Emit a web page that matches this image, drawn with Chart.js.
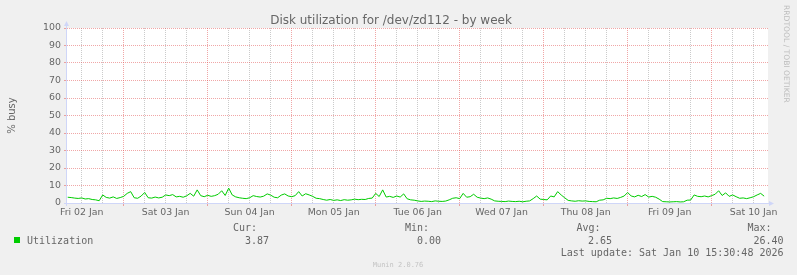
<!DOCTYPE html>
<html>
<head>
<meta charset="utf-8">
<script src="https://cdn.jsdelivr.net/npm/chart.js@4/dist/chart.umd.min.js"></script>
<style>
  html, body { margin: 0; padding: 0; background: #f0f0f0; }
  canvas { display: block; }
</style>
</head>
<body>
<canvas id="diskChart" width="797" height="275"></canvas>
<script>
// hours relative to noon Fri 02 Jan, one sample per hour
const firstHour = -4
const utilization = [
  3.3, 3.1, 2.8, 2.6, 2.9, 2.3, 2.5, 2.0, 1.8, 1.3,
  4.6, 3.2, 2.8, 3.5, 2.6, 3.1, 3.8, 5.5, 6.5, 3.0,
  2.7, 4.0, 6.0, 3.0, 2.8, 3.4, 2.9, 3.3, 4.6, 4.2,
  4.8, 3.5, 3.8, 3.3, 4.1, 5.5, 3.9, 7.5, 4.2, 3.6,
  4.4, 3.8, 4.2, 5.0, 7.0, 4.3, 8.5, 4.6, 3.5, 3.0,
  2.7, 2.5, 3.0, 4.2, 3.7, 3.4, 3.9, 5.2, 4.5, 3.3,
  3.0, 4.5, 5.2, 4.0, 3.6, 4.2, 6.5, 4.0, 5.3, 4.6,
  3.8, 2.7, 2.5, 2.0, 1.6, 2.0, 1.5, 1.8, 1.4, 1.9,
  1.6, 1.8, 2.2, 1.9, 2.1, 2.0, 2.6, 2.8, 5.5, 3.7,
  7.5, 3.4, 3.8, 3.2, 4.0, 3.4, 5.2, 2.4, 1.8, 1.6,
  1.2, 0.9, 1.1, 1.0, 0.8, 1.2, 1.0, 0.9, 1.1, 1.8,
  2.7, 3.0, 2.5, 5.5, 3.3, 3.6, 5.0, 3.3, 2.8, 2.5,
  2.9, 2.2, 1.2, 1.0, 0.9, 0.8, 1.1, 0.9, 0.8, 1.0,
  0.7, 1.0, 1.2, 2.5, 4.0, 2.2, 2.0, 1.8, 4.0, 3.5,
  6.5, 4.6, 3.0, 1.5, 1.2, 1.0, 1.3, 1.1, 1.2, 0.9,
  0.8, 0.7, 1.6, 1.8, 2.7, 2.5, 2.9, 2.6, 3.2, 4.0,
  6.0, 4.0, 3.5, 4.4, 3.7, 4.8, 3.4, 3.8, 3.3, 2.2,
  0.8, 0.7, 0.6, 0.7, 0.8, 0.6, 0.7, 1.6, 1.7, 4.6,
  3.8, 3.6, 4.0, 3.5, 4.2, 5.0, 7.0, 4.3, 5.8, 3.8,
  4.6, 3.6, 2.7, 2.9, 2.5, 3.0, 3.6, 4.6, 5.5, 3.9
]

const xTickHours = [0, 6, 12, 18, 24, 30, 36, 42, 48, 54, 60, 66, 72, 78, 84, 90, 96,
  102, 108, 114, 120, 126, 132, 138, 144, 150, 156, 162, 168, 174, 180, 186, 192]
const dayLabels = ["Fri 02 Jan", "Sat 03 Jan", "Sun 04 Jan", "Mon 05 Jan", "Tue 06 Jan",
  "Wed 07 Jan", "Thu 08 Jan", "Fri 09 Jan", "Sat 10 Jan"]

const statLabels = ["Cur:", "Min:", "Avg:", "Max:"]
const statValues = ["3.87", "0.00", "2.65", "26.40"]
const lastUpdate = "Last update: Sat Jan 10 15:30:48 2026"

const GRID = "rgba(140,140,140,0.45)"
const MGRID = "rgba(225,80,80,0.5)"
const AXIS = "#cfd6f8"
const FONT = "#666666"

// background, titles, legend and axis arrows like rrdtool draws them
const muninLook = {
    id: "muninLook",
    beforeDraw(chart) {
        const ctx = chart.ctx
        const a = chart.chartArea
        ctx.save()
        ctx.fillStyle = "#f0f0f0"
        ctx.fillRect(0, 0, chart.width, chart.height)
        ctx.fillStyle = "#ffffff"
        ctx.fillRect(a.left, a.top, a.right - a.left, a.bottom - a.top)
        ctx.restore()
    },
    afterDraw(chart) {
        const ctx = chart.ctx
        const a = chart.chartArea
        ctx.save()

        //axis lines + arrows
        ctx.strokeStyle = AXIS
        ctx.fillStyle = AXIS
        ctx.lineWidth = 1
        ctx.beginPath()
        ctx.moveTo(a.left - 0.5, a.bottom + 3)
        ctx.lineTo(a.left - 0.5, a.top - 3)
        ctx.moveTo(a.left - 3, a.bottom + 0.5)
        ctx.lineTo(a.right + 2, a.bottom + 0.5)
        ctx.stroke()
        ctx.beginPath()
        ctx.moveTo(a.left - 0.5, a.top - 7)
        ctx.lineTo(a.left - 3, a.top - 2)
        ctx.lineTo(a.left + 2, a.top - 2)
        ctx.closePath()
        ctx.fill()
        ctx.beginPath()
        ctx.moveTo(a.right + 6, a.bottom + 0.5)
        ctx.lineTo(a.right + 1, a.bottom - 2)
        ctx.lineTo(a.right + 1, a.bottom + 3)
        ctx.closePath()
        ctx.fill()

        //title
        ctx.fillStyle = FONT
        ctx.font = '12px "DejaVu Sans"'
        ctx.textAlign = "center"
        ctx.textBaseline = "alphabetic"
        ctx.fillText("Disk utilization for /dev/zd112 - by week", 391, 23.5)

        //vertical label
        ctx.save()
        ctx.translate(15, (a.top + a.bottom) / 2)
        ctx.rotate(-Math.PI / 2)
        ctx.font = '10px "DejaVu Sans"'
        ctx.fillText("% busy", 0, 0)
        ctx.restore()

        //watermark at the right
        ctx.save()
        ctx.translate(784, 5)
        ctx.rotate(Math.PI / 2)
        ctx.font = '7.6px "DejaVu Sans"'
        ctx.fillStyle = "#bdbdbd"
        ctx.textAlign = "left"
        ctx.fillText("RRDTOOL / TOBI OETIKER", 0, 0)
        ctx.restore()

        //legend
        ctx.fillStyle = "#00cc00"
        ctx.fillRect(14, 237, 6, 6)
        ctx.fillStyle = FONT
        ctx.font = '10px "DejaVu Sans Mono"'
        ctx.textAlign = "left"
        ctx.fillText("Utilization", 27, 243.5)
        const labelX = [233, 405, 576.5, 747.5]
        const valueX = [269, 441, 612, 783.5]
        statLabels.forEach((lab, i) => ctx.fillText(lab, labelX[i], 231))
        ctx.textAlign = "right"
        statValues.forEach((val, i) => ctx.fillText(val, valueX[i], 243.5))
        ctx.fillText(lastUpdate, 783.5, 256)

        ctx.textAlign = "center"
        ctx.fillStyle = "#c4c4c4"
        ctx.font = '7px "DejaVu Sans Mono"'
        ctx.fillText("Munin 2.0.76", 398, 266.5)
        ctx.restore()
    }
}

const points = utilization.map((v, i) => ({ x: firstHour + i, y: v }))

const config = {
    type: "line",
    data: {
        datasets: [{
            label: "Utilization",
            data: points,
            borderColor: "#00cc00",
            borderWidth: 1,
            pointRadius: 0,
            tension: 0,
            fill: false
        }]
    },
    options: {
        responsive: false,
        animation: false,
        events: [],
        layout: { padding: { top: 28, right: 29, left: 0, bottom: 0 } },
        plugins: {
            legend: { display: false },
            tooltip: { enabled: false },
            title: { display: false }
        },
        scales: {
            x: {
                type: "linear",
                min: -4.2,
                max: 196.1,
                afterBuildTicks(scale) {
                    scale.ticks = xTickHours.map(h => ({ value: h }))
                },
                afterFit(scale) { scale.height = 72 },
                ticks: {
                    autoSkip: false,
                    maxRotation: 0,
                    padding: 1,
                    color: FONT,
                    font: { family: "DejaVu Sans", size: 9.4 },
                    callback: v => v % 24 === 0 ? dayLabels[v / 24] : ""
                },
                grid: {
                    color: c => c.tick && (c.tick.value - 12) % 24 === 0 ? MGRID : GRID,
                    tickColor: c => c.tick && (c.tick.value - 12) % 24 === 0 ? MGRID : "rgba(0,0,0,0)",
                    tickLength: 3,
                    borderDash: [1, 1]
                },
                border: { display: true, width: 0, dash: [1, 1] }
            },
            y: {
                min: 0,
                max: 100,
                afterFit(scale) { scale.width = 67 },
                ticks: {
                    stepSize: 5,
                    padding: 3,
                    color: FONT,
                    font: { family: "DejaVu Sans", size: 9.4 },
                    callback: v => v % 10 === 0 ? v : ""
                },
                grid: {
                    color: c => {
                        if (!c.tick || c.tick.value === 0) return "rgba(0,0,0,0)"
                        return c.tick.value % 10 === 0 ? MGRID : GRID
                    },
                    tickColor: c => c.tick && c.tick.value % 10 === 0 && c.tick.value > 0 ? MGRID : "rgba(0,0,0,0)",
                    tickLength: 3,
                    borderDash: [1, 1]
                },
                border: { display: true, width: 0, dash: [1, 1] }
            }
        }
    },
    plugins: [muninLook]
}

const myChart = new Chart(document.querySelector("#diskChart"), config)
</script>
</body>
</html>
